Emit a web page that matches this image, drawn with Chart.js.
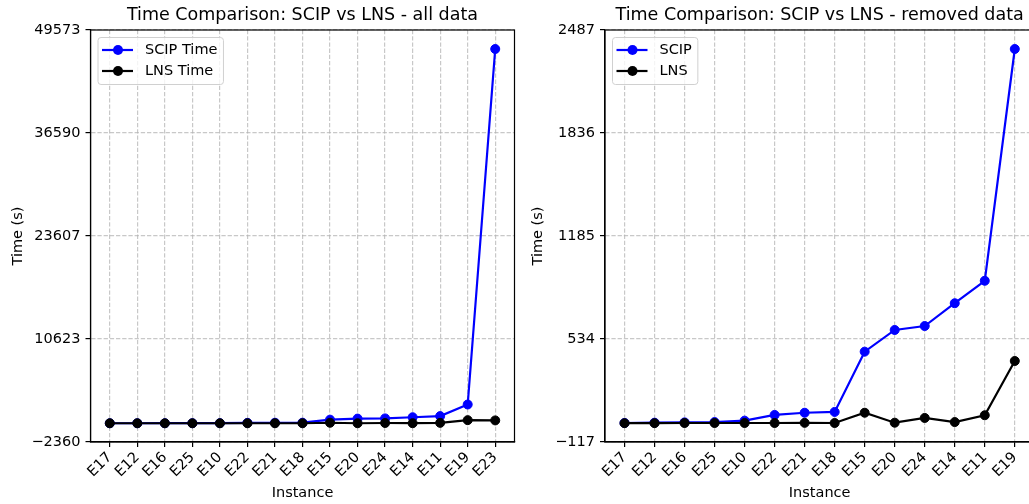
<!DOCTYPE html>
<html>
<head>
<meta charset="utf-8">
<script src="https://cdn.jsdelivr.net/npm/chart.js@4.4.1/dist/chart.umd.min.js"></script>
<style>
  html, body { margin: 0; padding: 0; background: #fff; overflow: hidden; }
  #wrap { position: relative; width: 1029px; height: 504px; overflow: hidden; }
  canvas { position: absolute; top: 0; }
</style>
</head>
<body>
<div id="wrap">
  <canvas id="leftChart" width="520" height="504" style="left:0"></canvas>
  <canvas id="rightChart" width="520" height="504" style="left:520px"></canvas>
</div>
<script>
// left panel: all data
const leftCats = ['E17','E12','E16','E25','E10','E22','E21','E18','E15','E20','E24','E14','E11','E19','E23'];
const leftScip = [3, 5, 7, 9, 18, 54, 68, 73, 454, 591, 616, 760, 902, 2367, 47178];
const leftLns  = [2, 2, 3, 3, 3, 3, 4, 3, 68, 5, 35, 9, 52, 395, 360];
const leftTicks = [-2360, 10623, 23607, 36590, 49573];

// right panel: E23 removed
const rightCats = ['E17','E12','E16','E25','E10','E22','E21','E18','E15','E20','E24','E14','E11','E19'];
const rightScip = [3, 5, 7, 9, 18, 54, 68, 73, 454, 591, 616, 760, 902, 2367];
const rightLns  = [2, 2, 3, 3, 3, 3, 4, 3, 68, 5, 35, 9, 52, 395];
const rightTicks = [-117, 534, 1185, 1836, 2487];

Chart.defaults.font.family = 'DejaVu Sans';
Chart.defaults.color = '#000';

const FS = 14.5;

// title over the axes + black frame + legend box inside the axes
const decor = {
  id: 'decor',
  afterDraw(chart, args, opts) {
    const ctx = chart.ctx, a = chart.chartArea;
    ctx.save();
    ctx.strokeStyle = '#000';
    ctx.lineWidth = 1.2;
    ctx.strokeRect(a.left, a.top, a.right - a.left, a.bottom - a.top);

    ctx.font = '17.5px "DejaVu Sans"';
    ctx.fillStyle = '#000';
    ctx.textAlign = 'center';
    ctx.textBaseline = 'middle';
    ctx.fillText(opts.title, (a.left + a.right) / 2, 15.5);

    // legend
    ctx.font = FS + 'px "DejaVu Sans"';
    const items = opts.items;
    let tw = 0;
    items.forEach(it => { tw = Math.max(tw, ctx.measureText(it.label).width); });
    const bx = a.left + 7.5, by = a.top + 7.5;
    const bw = 47 + tw + 6, bh = 47;
    ctx.beginPath();
    ctx.roundRect(bx, by, bw, bh, 3);
    ctx.fillStyle = 'rgba(255,255,255,0.8)';
    ctx.fill();
    ctx.strokeStyle = '#d0d0d0';
    ctx.lineWidth = 1;
    ctx.stroke();
    items.forEach((it, i) => {
      const y = by + 12.5 + i * 21;
      ctx.strokeStyle = it.color;
      ctx.lineWidth = 2.2;
      ctx.beginPath();
      ctx.moveTo(bx + 4, y);
      ctx.lineTo(bx + 35, y);
      ctx.stroke();
      ctx.beginPath();
      ctx.arc(bx + 20, y, 5, 0, Math.PI * 2);
      ctx.fillStyle = it.color;
      ctx.fill();
      ctx.fillStyle = '#000';
      ctx.textAlign = 'left';
      ctx.fillText(it.label, bx + 47, y + 0.5);
    });
    ctx.restore();
  }
};

function makeChart(id, cats, scip, lns, ticks, cfg) {
  const pts = arr => arr.map((v, i) => ({ x: i, y: v }));
  const margin = 0.05 * (cats.length - 1);
  const ds = (label, data, color, order) => ({
    label, data: pts(data), order,
    borderColor: color, backgroundColor: color,
    borderWidth: 2.2, pointRadius: 4.5, pointBorderWidth: 1,
    pointBackgroundColor: color, pointBorderColor: color,
    tension: 0, fill: false
  });
  return new Chart(document.getElementById(id), {
    type: 'line',
    data: {
      datasets: [
        ds(cfg.names[0], scip, '#0000ff', 1),
        ds(cfg.names[1], lns, '#000000', 0)
      ]
    },
    options: {
      responsive: false,
      animation: false,
      events: [],
      layout: { padding: { top: 30, right: cfg.padRight, left: 0, bottom: 0 } },
      plugins: {
        legend: { display: false },
        tooltip: { enabled: false },
        title: { display: false },
        decor: {
          title: cfg.title,
          items: [
            { label: cfg.names[0], color: '#0000ff' },
            { label: cfg.names[1], color: '#000000' }
          ]
        }
      },
      scales: {
        x: {
          type: 'linear',
          min: -margin,
          max: cats.length - 1 + margin,
          afterBuildTicks: s => { s.ticks = cats.map((c, i) => ({ value: i })); },
          afterFit: s => { s.height = 62; },
          ticks: {
            autoSkip: false, minRotation: 45, maxRotation: 45,
            font: { size: FS }, padding: 2,
            callback: v => cats[v]
          },
          grid: {
            color: 'rgba(176,176,176,0.7)', lineWidth: 1.2,
            tickLength: 5, tickColor: '#000', tickWidth: 1.2, tickBorderDash: []
          },
          border: { display: true, color: '#000', width: 1.2, dash: [4.3, 1.9] },
          title: { display: true, text: 'Instance', font: { size: FS }, padding: { top: 0, bottom: 2.3 } }
        },
        y: {
          min: ticks[0],
          max: ticks[ticks.length - 1],
          afterBuildTicks: s => { s.ticks = ticks.map(v => ({ value: v })); },
          afterFit: s => { s.width = cfg.yWidth; },
          ticks: {
            font: { size: FS }, padding: 5,
            callback: v => String(v).replace('-', '\u2212')
          },
          grid: {
            color: 'rgba(176,176,176,0.7)', lineWidth: 1.2,
            tickLength: 5, tickColor: '#000', tickWidth: 1.2, tickBorderDash: []
          },
          border: { display: true, color: '#000', width: 1.2, dash: [4.3, 1.9] },
          title: { display: true, text: 'Time (s)', font: { size: FS }, padding: { top: 9.3, bottom: 0 } }
        }
      }
    },
    plugins: [decor]
  });
}

makeChart('leftChart', leftCats, leftScip, leftLns, leftTicks, {
  title: 'Time Comparison: SCIP vs LNS - all data',
  names: ['SCIP Time', 'LNS Time'],
  yWidth: 90.5, padRight: 1
});
makeChart('rightChart', rightCats, rightScip, rightLns, rightTicks, {
  title: 'Time Comparison: SCIP vs LNS - removed data',
  names: ['SCIP', 'LNS'],
  yWidth: 85, padRight: 5.7
});
</script>
</body>
</html>
